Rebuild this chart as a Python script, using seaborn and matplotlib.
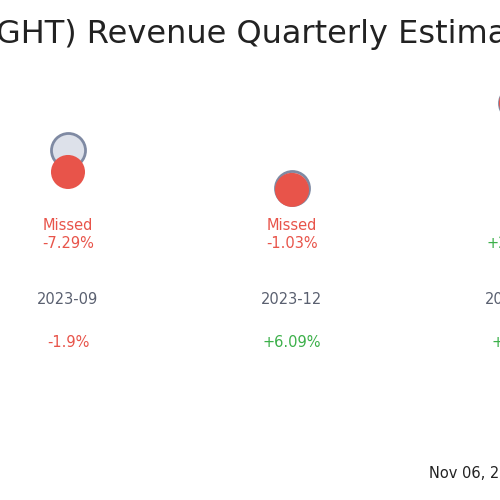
import numpy as np
import pandas as pd
import matplotlib
matplotlib.use('Agg')
import matplotlib.pyplot as plt
import seaborn as sns

quarters = ['2023-09', '2023-12', '2024-03']
estimate = [97.0, 85.0, 112.0]
actual = [90.0, 84.3, 112.0]
surprise = ['-7.29%', '-1.03%', '+2.10%']
status = ['Missed', 'Missed', 'Beat']
growth = ['-1.9%', '+6.09%', '+0.5%']

red = '#e8544a'; green = '#3cb04a'; grey = '#5a6070'

sns.set_style('white')
fig = plt.figure(figsize = (5, 5), dpi = 100)
ax = fig.add_axes([0, 0, 1, 1])
x = np.arange(len(quarters))
df = pd.DataFrame({'x': x, 'estimate': estimate, 'actual': actual})
sns.scatterplot(data = df, x = 'x', y = 'estimate', ax = ax, s = 600, color = '#dde1ea', edgecolor = '#7f8aa3', linewidth = 2, zorder = 2)
sns.scatterplot(data = df, x = 'x', y = 'actual', ax = ax, s = 600, color = red, edgecolor = 'none', linewidth = 0, zorder = 3)
ax.set_xlim(-68 / 224, 432 / 224)
ax.set_ylim(97 - 350 / 3.14, 97 + 150 / 3.14)
ax.axis('off')

for i in x:
    c = red if status[i] == 'Missed' else green
    ax.text(i, 0.53, status[i] + '\n' + surprise[i], color = c, ha = 'center', va = 'center', fontsize = 10.5, transform = ax.get_xaxis_transform(), linespacing = 1.25)
    ax.text(i, 0.40, quarters[i], color = grey, ha = 'center', va = 'center', fontsize = 10.5, transform = ax.get_xaxis_transform())
    gc = red if growth[i].startswith('-') else green
    ax.text(i, 0.315, growth[i], color = gc, ha = 'center', va = 'center', fontsize = 10.5, transform = ax.get_xaxis_transform())

fig.text(-0.008, 0.932, 'GHT) Revenue Quarterly Estimates', fontsize = 23, color = '#222222', ha = 'left', va = 'center')
fig.text(0.858, 0.053, 'Nov 06, 2024', fontsize = 10.5, color = '#222222', ha = 'left', va = 'center')
fig.savefig('out.png', dpi = 100)
